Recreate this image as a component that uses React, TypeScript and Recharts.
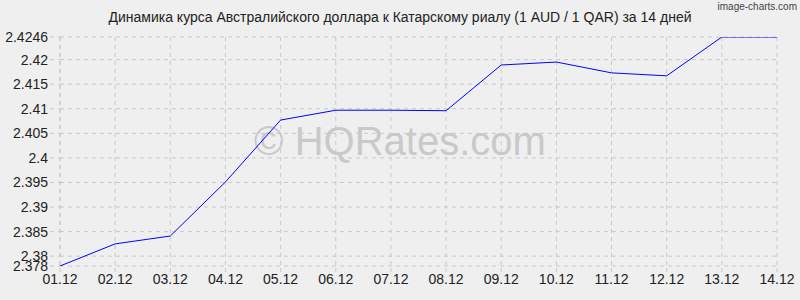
import { LineChart, Line, CartesianGrid, XAxis, YAxis } from 'recharts'

const days = ['01.12', '02.12', '03.12', '04.12', '05.12', '06.12', '07.12', '08.12', '09.12', '10.12', '11.12', '12.12', '13.12', '14.12']
const rates = [2.378, 2.3825, 2.3841, 2.3951, 2.4077, 2.4097, 2.4097, 2.4096, 2.4189, 2.4195, 2.4173, 2.4167, 2.4246, 2.4246]
const yTicks = [2.378, 2.38, 2.385, 2.39, 2.395, 2.4, 2.405, 2.41, 2.415, 2.42, 2.4246]

const data = days.map((d, i) => ({ day: d, rate: rates[i] }))

const font = '"Liberation Sans", Arial, sans-serif'

const App = () => {
    return (
        <div style={{ position: 'absolute', left: 0, top: 0, width: 800, height: 300, background: '#efefef', fontFamily: font, overflow: 'hidden' }}>
            <div style={{ position: 'absolute', left: 0, top: 9, width: 800, textAlign: 'center', fontSize: 14, color: '#222' }}>
                Динамика курса Австралийского доллара к Катарскому риалу (1 AUD / 1 QAR) за 14 дней
            </div>
            <div style={{ position: 'absolute', right: 3, top: 1, fontSize: 10, color: '#444', fontFamily: '"Liberation Sans Narrow", "Liberation Sans", sans-serif' }}>image-charts.com</div>
            {/* watermark sits under the svg so the line draws over it */}
            <div style={{ position: 'absolute', left: 0, top: 119, width: 800, textAlign: 'center', fontSize: 40, color: '#c9c9c9', fontFamily: font }}>
                © HQRates.com
            </div>
            <div style={{ position: 'absolute', left: 0, top: 0 }}>
                <LineChart width={800} height={300} data={data} margin={{ top: 37, right: 23, bottom: 4, left: 0 }}>
                    <CartesianGrid stroke='#c8c8c8' strokeDasharray='4 4' />
                    <XAxis dataKey='day' interval={0} height={30} axisLine={false} tickLine={{ stroke: '#c8c8c8', strokeDasharray: '4 4' }} tickSize={6}
                        tick={{ fill: '#222', fontSize: 14, fontFamily: font }} />
                    <YAxis type='number' domain={[2.378, 2.4246]} ticks={yTicks} interval={0} width={60} allowDataOverflow
                        axisLine={{ stroke: '#c8c8c8', strokeDasharray: '4 4' }} tickLine={{ stroke: '#c8c8c8', strokeDasharray: '4 4' }} tickSize={10}
                        tick={{ fill: '#222', fontSize: 14, fontFamily: font }} />
                    <Line type='linear' dataKey='rate' stroke='#0000ff' strokeWidth={1} dot={false} isAnimationActive={false} />
                </LineChart>
            </div>
        </div>
    )
}

export default App
